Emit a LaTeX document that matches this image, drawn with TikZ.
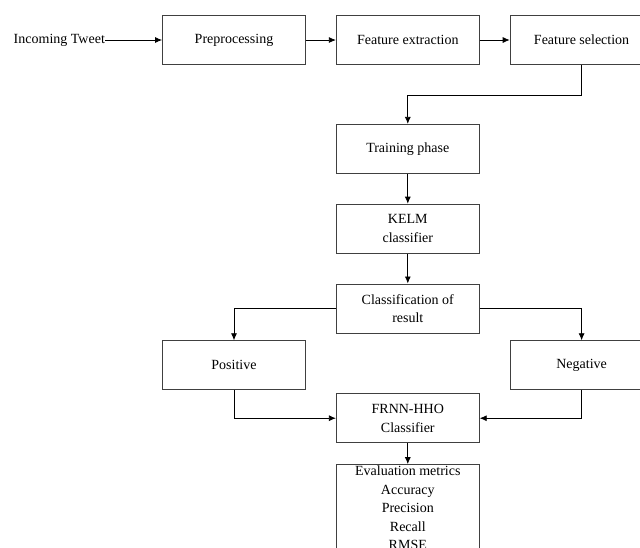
\documentclass[tikz,border=0pt]{standalone}
\usepackage{fontspec}
\setmainfont{Liberation Serif}
\usetikzlibrary{shapes,arrows,arrows.meta, positioning}
\tikzstyle{block} = [rectangle, draw=black!75, line width=0.8pt, text centered, minimum width=143pt, minimum height=49pt, inner sep=1.5pt]
\tikzstyle{process} = [block, ]
\tikzstyle{arrow} = [draw, line width=0.8pt, -{Latex[length=7pt, width=6pt]}]

\begin{document}
\begin{tikzpicture}[
    auto,
    node distance=30pt,
    every node/.style={align=center, font=\fontsize{14}{18.5}\selectfont}
]
    \clip (0,0) rectangle (640pt,-547pt);

    \node[process] (prep) at (234pt,-40pt) {Preprocessing};
    \node[inner sep=0pt, left = 57pt of prep] (tweet) {Incoming Tweet};
    \node[process, right = of prep] (featExt) {Feature extraction};
    \node[process, right = of featExt] (featSel) {Feature selection};

    \node[process, below = 59pt of featExt] (training) {Training phase};
    \node[process, below = of training] (kelm) {KELM\\ classifier};
    \node[process, below = of kelm] (classRes) {Classification of\\ result};

    \node[process, below left = 7pt and 30pt of classRes] (positive) {Positive};
    \node[process, below right = 7pt and 30pt of classRes] (negative) {Negative};

    \node[process, below = 60pt of classRes] (frnn) {FRNN-HHO\\ Classifier};
    \node[process, below = 21pt of frnn] (evalMetrics) {Evaluation metrics\\ Accuracy\\ Precision\\ Recall\\ RMSE};

    \path[arrow] (tweet) -- (prep);
    \path[arrow] (prep) -- (featExt);
    \path[arrow] (featExt) -- (featSel);

    \path[arrow] (featSel.south) -- ++(0,-30pt) -| (training.north);
    \path[arrow] (training) -- (kelm);
    \path[arrow] (kelm) -- (classRes);

    \path[arrow] (classRes.west) -| (positive.north);
    \path[arrow] (classRes.east) -| (negative.north);

    \path[arrow] (positive.south) |- (frnn.west);
    \path[arrow] (negative.south) |- (frnn.east);

    \path[arrow] (frnn) -- (evalMetrics);
\end{tikzpicture}
\end{document}
